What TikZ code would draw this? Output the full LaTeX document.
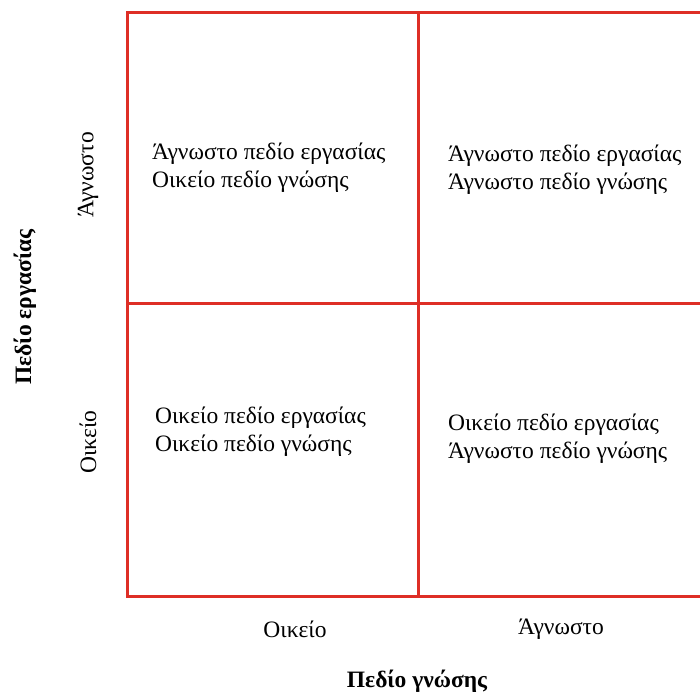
\documentclass[tikz,border=0pt]{standalone}
\usepackage{fontspec}
\setmainfont{Liberation Serif}
\definecolor{gridred}{RGB}{222,46,38}
\tikzset{
  cell/.style={anchor=west,align=left,inner sep=0pt,font=\fontsize{23.5}{28}\selectfont},
  axis/.style={inner sep=0pt,font=\fontsize{23.5}{28}\selectfont},
  title/.style={inner sep=0pt,font=\fontsize{23.5}{28}\selectfont\bfseries},
  gridline/.style={gridred,line width=3pt}
}

\begin{document}
\begin{tikzpicture}[x=1pt,y=1pt]
    \useasboundingbox (0,0) rectangle (700,691);
    % grid corners
    \coordinate (TL) at (127,678);
    \coordinate (TM) at (418,678);
    \coordinate (TR) at (700,678);
    \coordinate (ML) at (127,387);
    \coordinate (MM) at (418,387);
    \coordinate (MR) at (700,387);
    \coordinate (BL) at (127,95);
    \coordinate (BM) at (418,95);
    \coordinate (BR) at (700,95);
    \draw[gridline] (TR) -- (TL) -- (BL) -- (BR);
    \draw[gridline] (TM) -- (BM) (ML) -- (MR);
    % cells
    \node (c1) at (152,523) [cell] {Άγνωστο πεδίο εργασίας\\Οικείο πεδίο γνώσης};
    \node (c2) at (448,521) [cell] {Άγνωστο πεδίο εργασίας\\Άγνωστο πεδίο γνώσης};
    \node (c3) at (155,259) [cell] {Οικείο πεδίο εργασίας\\Οικείο πεδίο γνώσης};
    \node (c4) at (448,252) [cell] {Οικείο πεδίο εργασίας\\Άγνωστο πεδίο γνώσης};
    % axes
    \node (yhi) at (88,516) [axis,rotate=90] {Άγνωστο};
    \node (ylo) at (88,249) [axis,rotate=90] {Οικείο};
    \node (ytitle) at (25,384) [title,rotate=90] {Πεδίο εργασίας};
    \node (xlo) at (295,62) [axis] {Οικείο};
    \node (xhi) at (561,62) [axis] {Άγνωστο};
    \node (xtitle) at (417,10) [title] {Πεδίο γνώσης};
\end{tikzpicture}
\end{document}
